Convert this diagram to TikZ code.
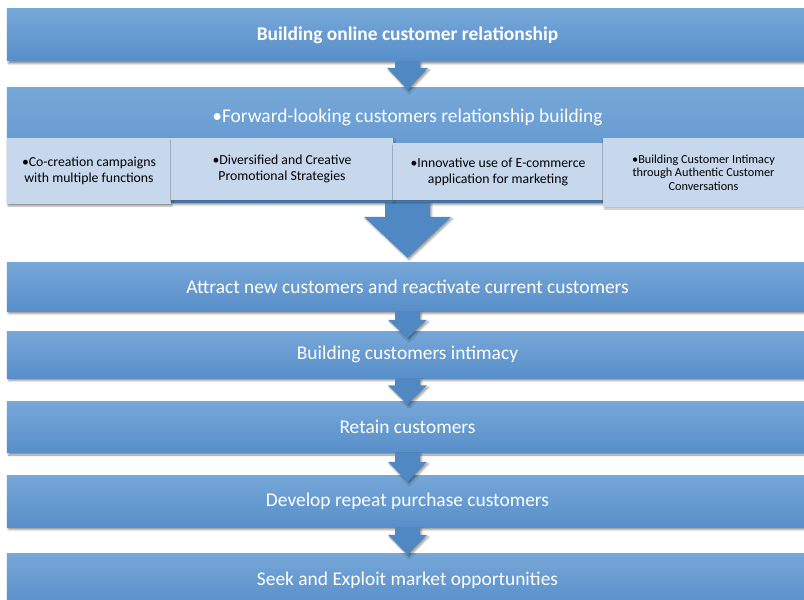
\documentclass[tikz,border=0pt]{standalone}
\usepackage{fontspec}
\setmainfont{Carlito}
\usetikzlibrary{calc,shadows.blur}

\definecolor{boxtop}{RGB}{118,167,216}
\definecolor{boxbot}{RGB}{88,143,201}
\definecolor{arrowfill}{RGB}{80,136,196}
\definecolor{subfill}{RGB}{199,216,237}

\tikzset{
  stage/.style={rectangle, minimum width=801bp, inner sep=0pt,
    top color=boxtop, bottom color=boxbot, text=white,
    font=\fontsize{19.5}{23}\selectfont,
    blur shadow={shadow xshift=1.5bp, shadow yshift=-2.5bp,
      shadow blur radius=2bp, shadow opacity=45}},
  subitem/.style={rectangle, inner sep=0pt, fill=subfill, text=black,
    align=center, font=\fontsize{13.8}{16}\selectfont,
    blur shadow={shadow xshift=1bp, shadow yshift=-2bp,
      shadow blur radius=1.5bp, shadow opacity=25}},
  flowarrow/.style={fill=arrowfill,
    blur shadow={shadow xshift=1.5bp, shadow yshift=-2bp,
      shadow blur radius=2bp, shadow opacity=40}},
}

% block arrow from the bottom of #1 towards the top of #2
% #3 shaft half width, #4 head half width, #5 head length,
% #6 how far the tip reaches below the top of #2
\newcommand\flowarrow[6]{%
  \path[flowarrow] let \p1=(#1.south), \p2=(#2.north),
      \n1={\y2-(#6)}, \n2={\y2-(#6)+(#5)} in
    (\x1-#3,\y1) -- (\x1+#3,\y1) -- (\x1+#3,\n2) -- (\x1+#4,\n2)
    -- (\x1,\n1) -- (\x1-#4,\n2) -- (\x1-#3,\n2) -- cycle;}

\begin{document}
\begin{tikzpicture}[x=1bp,y=-1bp]
  \useasboundingbox (0,0) rectangle (804,600);
  \clip (0,0) rectangle (804,600);

  % top stage
  \node[stage, minimum height=52bp, font=\fontsize{19.5}{23}\selectfont\bfseries]
    (b1) at (407.5,35) {Building online customer relationship};

  % forward-looking stage with its four strategies
  \node[stage, minimum height=114bp] (b2) at (407.5,145) {};
  \node[text=white, font=\fontsize{19.5}{23}\selectfont, inner sep=0pt]
    (t2) at (407.5,117) {•Forward-looking customers relationship building};

  % lower stages
  \node[stage, minimum height=49bp] (b3) at (407.5,286.5)
    {Attract new customers and reactivate current customers};
  \node[stage, minimum height=47bp] (b4) at (407.5,354.5)
    {Building customers intimacy};
  \node[stage, minimum height=51bp] (b5) at (407.5,427)
    {Retain customers};
  \node[stage, minimum height=52bp] (b6) at (407.5,501)
    {Develop repeat purchase customers};
  \node[stage, minimum height=54bp] (b7) at (407.5,580)
    {Seek and Exploit market opportunities};

  \flowarrow{b1}{b2}{12.5bp}{20.5bp}{22bp}{2bp}
  \flowarrow{b2}{b3}{22.5bp}{43.5bp}{41bp}{-4bp}

  \node[subitem, minimum width=164bp, minimum height=66bp]
    (s1) at (89,171) {•Co-creation campaigns\\with multiple functions};
  \node[subitem, minimum width=222bp, minimum height=62bp]
    (s2) at (282,169) {•Diversified and Creative\\Promotional Strategies};
  \node[subitem, minimum width=210bp, minimum height=57bp]
    (s3) at (498,171.5) {•Innovative use of E-commerce\\application for marketing};
  \node[subitem, minimum width=201bp, minimum height=69bp,
        font=\fontsize{12.3}{13.5}\selectfont]
    (s4) at (703.5,172.5) {•Building Customer Intimacy\\through Authentic Customer\\Conversations};

  \flowarrow{b3}{b4}{12.5bp}{19.5bp}{18bp}{7bp}
  \flowarrow{b4}{b5}{12.5bp}{19.5bp}{19bp}{3bp}
  \flowarrow{b5}{b6}{12.5bp}{19.5bp}{20bp}{7bp}
  \flowarrow{b6}{b7}{12.5bp}{19.5bp}{20bp}{2bp}
\end{tikzpicture}
\end{document}
